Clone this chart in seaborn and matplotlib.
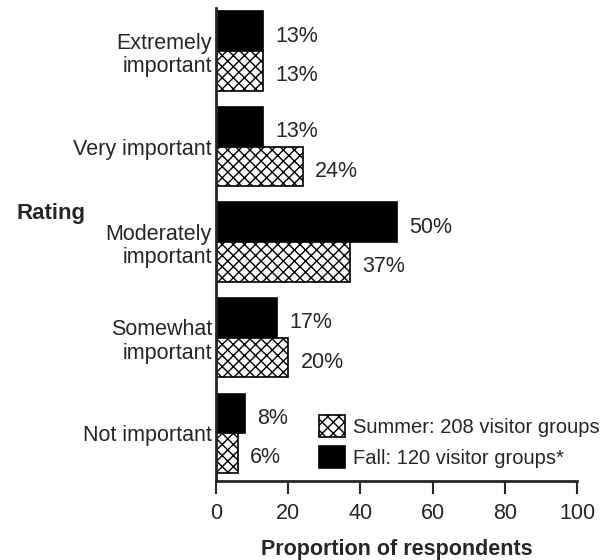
import matplotlib
matplotlib.use('Agg')
import matplotlib.pyplot as plt
import seaborn as sns
import pandas as pd
from matplotlib.patches import Patch

# Importance ratings, percent of visitor groups
ratings = ['Extremely\nimportant', 'Very important', 'Moderately\nimportant',
           'Somewhat\nimportant', 'Not important']
fall = [13, 13, 50, 17, 8]
summer = [13, 24, 37, 20, 6]
seasons = ['Fall', 'Summer']
legend_labels = ['Summer: 208 visitor groups', 'Fall: 120 visitor groups*']

df = pd.DataFrame({
    'rating': ratings * 2,
    'season': ['Fall'] * len(ratings) + ['Summer'] * len(ratings),
    'pct': fall + summer,
})

sns.set_style('ticks')
plt.rcParams['font.family'] = ['Liberation Sans', 'DejaVu Sans']
plt.rcParams['hatch.linewidth'] = 1.0

fig = plt.figure(figsize=(6.11, 5.6), dpi=100)
ax = fig.add_axes([216 / 611, 1 - 481 / 560, 361 / 611, 473 / 560])

sns.barplot(data=df, x='pct', y='rating', hue='season', hue_order=seasons,
            order=ratings, palette={'Fall': 'black', 'Summer': 'white'},
            width=0.83, edgecolor='black', linewidth=1.2, legend=False,
            orient='h', ax=ax)

# cross hatch on summer bars
for bar in ax.containers[1]:
    bar.set_hatch('xxx')

# percent labels, sitting a little below the bar centre like the original
for c in ax.containers:
    for t in ax.bar_label(c, fmt='%d%%', padding=9, fontsize=15.5):
        t.xyann = (9, -3.5)

ax.set_xlim(0, 100)
ax.set_ylim(4.5, -0.45)
ax.set_xticks([0, 20, 40, 60, 80, 100])
ax.tick_params(axis='x', length=9, width=1.5, labelsize=15.5, pad=7)
ax.tick_params(axis='y', length=0, labelsize=15.5, pad=3)
for lbl in ax.get_yticklabels():
    lbl.set_linespacing(1.15)

sns.despine(ax=ax)
ax.spines['left'].set_linewidth(2)
ax.spines['bottom'].set_linewidth(2)

ax.set_ylabel('')
ax.set_xlabel('Proportion of respondents', fontsize=15.5, fontweight='bold',
              labelpad=11)
fig.text(17 / 611, 1 - 213 / 560, 'Rating', fontsize=16, fontweight='bold',
         ha='left', va='center')

handles = [Patch(facecolor='white', edgecolor='black', hatch='xxx', linewidth=1.2),
           Patch(facecolor='black', edgecolor='black', linewidth=1.2)]
fig.legend(handles, legend_labels, loc='upper left',
           bbox_to_anchor=(319 / 611, 1 - 415 / 560), frameon=False,
           fontsize=14.5, borderpad=0, borderaxespad=0, handlelength=1.3,
           handleheight=1.3, handletextpad=0.4, labelspacing=0.45)

fig.savefig('out.png', dpi=100)
